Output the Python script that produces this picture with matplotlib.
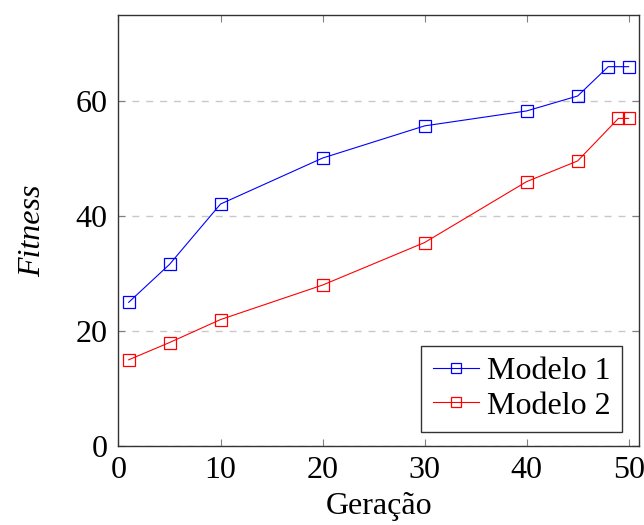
import matplotlib
matplotlib.use("Agg")
from matplotlib import pyplot as plt

geracao_1 = [1, 5, 10, 20, 30, 40, 45, 48, 50]
fitness_1 = [25, 31.6, 42.1, 50.1, 55.7, 58.3, 60.9, 66, 66]
geracao_2 = [1, 5, 10, 20, 30, 40, 45, 49, 50]
fitness_2 = [15, 18, 22, 28, 35.4, 46, 49.6, 57, 57]

x_ticks = [0, 10, 20, 30, 40, 50]
y_ticks = [0, 20, 40, 60]

plt.rcParams["font.family"] = ["Liberation Serif", "DejaVu Serif"]

fig = plt.figure(figsize=(6.44, 5.25), dpi=100)
ax = fig.add_axes([0.184, 0.1505, 0.808, 0.821])

ax.plot(geracao_1, fitness_1, color="blue", linewidth=0.8, marker="s",
        markersize=8, markerfacecolor="none", markeredgewidth=0.9,
        label="Modelo 1")
ax.plot(geracao_2, fitness_2, color="red", linewidth=0.8, marker="s",
        markersize=8, markerfacecolor="none", markeredgewidth=0.9,
        label="Modelo 2")

ax.set_xlim(0, 51)
ax.set_ylim(0, 75)
ax.set_xticks(x_ticks)
ax.set_yticks(y_ticks)
ax.grid(True, axis="y", linestyle=(0, (5, 5)), color="#c8c8c8", linewidth=1)
ax.set_axisbelow(True)
ax.tick_params(direction="in", top=True, right=True, length=5,
               color="#808080", labelsize=23)
ax.tick_params(axis="x", pad=7)
ax.tick_params(axis="y", pad=8)
for s in ax.spines.values():
    s.set_linewidth(1)
    s.set_color("#333333")

ax.set_xlabel("Geração", fontsize=23, labelpad=5)
ax.set_ylabel("Fitness", fontsize=23, style="italic", labelpad=20)

leg = ax.legend(loc="lower right", bbox_to_anchor=(0.967, 0.033), fontsize=23,
                fancybox=False, edgecolor="#333333", framealpha=1,
                handlelength=1.45, handletextpad=0.25, borderpad=0.35,
                labelspacing=0.15, borderaxespad=0)
leg.get_frame().set_linewidth(1)
for h in leg.legend_handles:
    h.set_markersize(6.5)

fig.savefig("out.png", dpi=100)
